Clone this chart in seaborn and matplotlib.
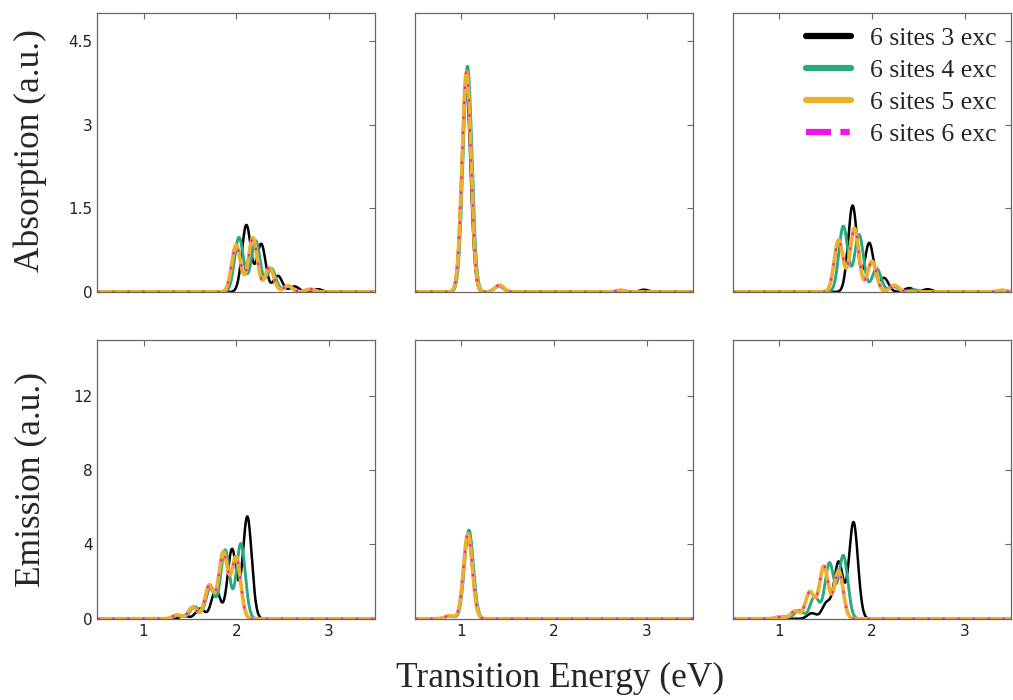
import numpy as np
import pandas as pd
import seaborn as sns
import matplotlib.pyplot as plt
from matplotlib.lines import Line2D

# stick spectra: peak energy (eV) and peak height (a.u.)
series = ["6 sites 3 exc", "6 sites 4 exc", "6 sites 5 exc", "6 sites 6 exc"]
colors = ["#000000", "#2aa882", "#ebb02e", "#f014e6"]
width_ev = 0.048

# absorption, left column
abs1_e = {
    "6 sites 3 exc": [2.11, 2.27, 2.45, 2.63, 2.88],
    "6 sites 4 exc": [2.03, 2.21, 2.38, 2.56, 2.78],
    "6 sites 5 exc": [2.00, 2.18, 2.36, 2.56, 2.80],
    "6 sites 6 exc": [2.00, 2.18, 2.36, 2.56, 2.80],
}
abs1_h = {
    "6 sites 3 exc": [1.20, 0.86, 0.29, 0.10, 0.05],
    "6 sites 4 exc": [0.98, 0.92, 0.42, 0.10, 0.04],
    "6 sites 5 exc": [0.84, 0.97, 0.43, 0.11, 0.05],
    "6 sites 6 exc": [0.84, 0.97, 0.43, 0.11, 0.05],
}
# absorption, middle column
abs2_e = {
    "6 sites 3 exc": [1.05, 1.40, 2.97],
    "6 sites 4 exc": [1.065, 1.41, 2.72],
    "6 sites 5 exc": [1.055, 1.41, 2.72],
    "6 sites 6 exc": [1.055, 1.41, 2.72],
}
abs2_h = {
    "6 sites 3 exc": [3.70, 0.11, 0.04],
    "6 sites 4 exc": [4.05, 0.12, 0.03],
    "6 sites 5 exc": [3.95, 0.12, 0.03],
    "6 sites 6 exc": [3.95, 0.12, 0.03],
}
# absorption, right column
abs3_e = {
    "6 sites 3 exc": [1.79, 1.97, 2.13, 2.40, 2.60],
    "6 sites 4 exc": [1.69, 1.86, 2.05, 2.23, 2.45],
    "6 sites 5 exc": [1.64, 1.81, 2.00, 2.24, 3.40],
    "6 sites 6 exc": [1.64, 1.81, 2.00, 2.24, 3.40],
}
abs3_h = {
    "6 sites 3 exc": [1.55, 0.88, 0.25, 0.07, 0.05],
    "6 sites 4 exc": [1.18, 1.03, 0.42, 0.10, 0.04],
    "6 sites 5 exc": [0.93, 1.14, 0.55, 0.12, 0.03],
    "6 sites 6 exc": [0.93, 1.14, 0.55, 0.12, 0.03],
}
# emission, left column
emi1_e = {
    "6 sites 3 exc": [2.12, 1.955, 1.78, 1.61, 1.44],
    "6 sites 4 exc": [2.05, 1.88, 1.72, 1.55, 1.38],
    "6 sites 5 exc": [2.00, 1.86, 1.71, 1.53, 1.36],
    "6 sites 6 exc": [2.00, 1.86, 1.71, 1.53, 1.36],
}
emi1_h = {
    "6 sites 3 exc": [5.50, 3.75, 1.55, 0.55, 0.15],
    "6 sites 4 exc": [4.05, 3.70, 1.65, 0.65, 0.20],
    "6 sites 5 exc": [3.30, 3.55, 1.80, 0.62, 0.20],
    "6 sites 6 exc": [3.30, 3.55, 1.80, 0.62, 0.20],
}
# emission, middle column
emi2_e = {
    "6 sites 3 exc": [1.07, 0.87],
    "6 sites 4 exc": [1.08, 0.87],
    "6 sites 5 exc": [1.07, 0.87],
    "6 sites 6 exc": [1.07, 0.87],
}
emi2_h = {
    "6 sites 3 exc": [4.40, 0.15],
    "6 sites 4 exc": [4.78, 0.16],
    "6 sites 5 exc": [4.57, 0.16],
    "6 sites 6 exc": [4.57, 0.16],
}
# emission, right column
emi3_e = {
    "6 sites 3 exc": [1.80, 1.64, 1.51, 1.35],
    "6 sites 4 exc": [1.69, 1.54, 1.38, 1.21, 1.05],
    "6 sites 5 exc": [1.64, 1.48, 1.33, 1.17, 1.00],
    "6 sites 6 exc": [1.64, 1.48, 1.33, 1.17, 1.00],
}
emi3_h = {
    "6 sites 3 exc": [5.20, 3.05, 0.85, 0.30],
    "6 sites 4 exc": [3.40, 3.00, 1.20, 0.45, 0.12],
    "6 sites 5 exc": [2.58, 2.82, 1.45, 0.42, 0.10],
    "6 sites 6 exc": [2.58, 2.82, 1.45, 0.42, 0.10],
}

panels = [[(abs1_e, abs1_h), (abs2_e, abs2_h), (abs3_e, abs3_h)],
          [(emi1_e, emi1_h), (emi2_e, emi2_h), (emi3_e, emi3_h)]]

energy = np.linspace(0.5, 3.5, 1500)


def broaden(centres, heights):
    y = np.zeros_like(energy)
    for c, h in zip(centres, heights):
        y += h * np.exp(-(energy - c) ** 2 / (2 * width_ev ** 2))
    return y


sns.set_style("white")
plt.rcParams["font.family"] = ["DejaVu Sans"]

fig, axes = plt.subplots(2, 3, figsize=(10.13, 7), dpi=100, sharex=True)
fig.subplots_adjust(left=0.096, right=0.998, top=0.981, bottom=0.116,
                    wspace=0.144, hspace=0.173)

widths = [1.8, 2.1, 2.7, 1.5]
for r in range(2):
    for c in range(3):
        ax = axes[r, c]
        cen, hts = panels[r][c]
        rows = []
        for s in series:
            y = broaden(cen[s], hts[s])
            rows.append(pd.DataFrame({"E": energy, "I": y, "series": s}))
        df = pd.concat(rows)
        for s, col, lw in zip(series, colors, widths):
            sub = df[df["series"] == s]
            if s == "6 sites 6 exc":
                sns.lineplot(data=sub, x="E", y="I", ax=ax, color=col, lw=lw,
                             linestyle=(0, (1.2, 6)), legend=False)
            else:
                sns.lineplot(data=sub, x="E", y="I", ax=ax, color=col, lw=lw,
                             legend=False)
        ax.set_xlim(0.5, 3.5)
        ax.set_xticks([1, 2, 3])
        if r == 0:
            ax.set_ylim(0, 5)
            ax.set_yticks([0, 1.5, 3, 4.5])
            ax.set_yticklabels(["0", "1.5", "3", "4.5"])
        else:
            ax.set_ylim(0, 15)
            ax.set_yticks([0, 4, 8, 12])
        ax.set_xlabel("")
        ax.set_ylabel("")
        ax.tick_params(direction="in", top=True, right=True, length=4,
                       width=0.8, color="#666666", labelsize=11,
                       labelcolor="#222222")
        if c != 0:
            ax.tick_params(labelleft=False)
        if r == 0:
            ax.tick_params(labelbottom=False)
        for sp in ax.spines.values():
            sp.set_color("#666666")
            sp.set_linewidth(0.9)

fig.text(0.030, 0.785, "Absorption (a.u.)", rotation=90, ha="center",
         va="center", family="Liberation Serif", fontsize=25.5)
fig.text(0.030, 0.315, "Emission (a.u.)", rotation=90, ha="center",
         va="center", family="Liberation Serif", fontsize=25.5)
fig.text(0.553, 0.031, "Transition Energy (eV)", ha="center", va="center",
         family="Liberation Serif", fontsize=25.5)

handles = []
for s, col in zip(series, colors):
    if s == "6 sites 6 exc":
        handles.append(Line2D([], [], color=col, lw=4.5,
                              linestyle=(0, (4, 1.5, 1.5, 1.5))))
    else:
        handles.append(Line2D([], [], color=col, lw=4.5))
axes[0, 2].legend(handles, series, loc="upper right", frameon=False,
                  prop={"family": "Liberation Serif", "size": 18.5},
                  handlelength=1.75, labelspacing=0.35, borderaxespad=0.15,
                  handletextpad=0.75)

fig.savefig("out.png", dpi=100)
